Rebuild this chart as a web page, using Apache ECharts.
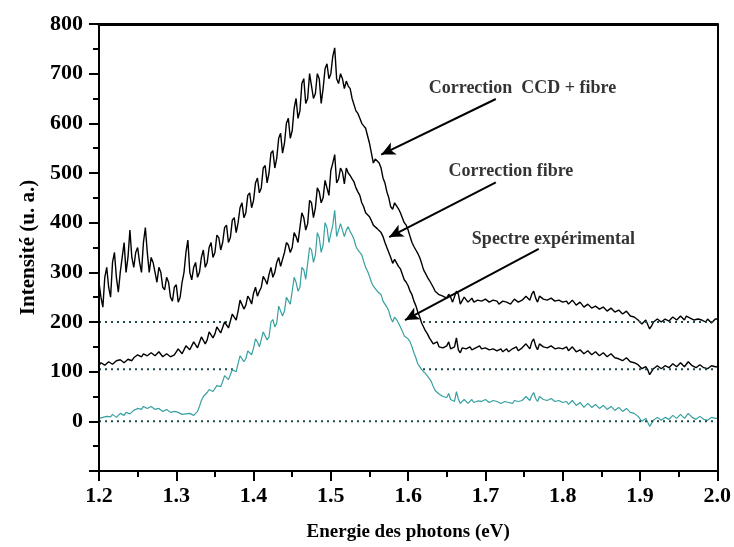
<!DOCTYPE html>
<html><head><meta charset="utf-8">
<script src="https://cdn.jsdelivr.net/npm/echarts@6/dist/echarts.min.js"></script>
<style>html,body{margin:0;padding:0;background:#fff}#c{width:734px;height:547px}</style>
</head><body><div id="c"></div>
<script>
// Sampling grid of the spectra (eV)
const E_START = 1.2;
const E_STEP = 0.0025;

// Spectre expérimental
const expValues = [6,10,8,5,10,12,9,14,12,8,11,16,16,12,18,20,15,18,22,26,
 26,22,24,30,34,26,26,30,28,24,22,26,24,20,20,24,22,18,18,20,
 20,18,16,14,17,15,13,16,16,12,14,20,30,42,50,46,58,64,66,60,
 64,72,76,70,80,92,90,84,88,104,108,100,116,132,132,120,126,142,140,134,
 148,166,160,150,152,180,178,164,170,200,205,190,198,232,228,212,222,250,252,236,
 262,290,280,262,270,310,305,286,318,350,345,320,335,380,370,340,355,400,390,360,
 378,395,425,372,372,398,395,372,385,392,382,375,366,352,345,340,335,322,310,302,
 292,280,272,268,262,265,255,242,236,230,222,208,200,210,205,198,196,182,172,168,
 166,160,150,138,128,116,110,104,100,96,92,86,80,70,62,58,55,52,50,52,
 48,56,44,40,40,60,45,36,36,44,42,36,40,44,38,36,41,44,40,38,
 44,42,38,42,42,38,40,36,36,40,40,42,38,34,36,42,42,40,40,42,
 44,50,48,42,52,58,46,40,50,52,44,48,42,40,46,50,40,44,42,38,
 38,42,40,34,36,42,38,32,34,38,36,28,32,36,34,28,30,34,32,26,
 28,32,30,24,26,30,28,22,24,28,26,20,22,26,24,18,20,16,14,10,
 6,0,2,6,4,-10,-4,2,2,8,6,2,4,8,8,4,6,12,10,6,
 8,14,12,6,10,16,14,8,8,4,6,10,10,4,6,2,4,8,8,6,
 6];

// Correction fibre
const fibreValues = [112,118,116,113,114,120,118,115,116,122,120,124,122,118,119,125,126,122,128,132,
 134,138,130,136,140,132,132,138,136,132,134,140,138,130,132,136,136,130,128,134,
 134,146,142,136,138,152,150,144,146,160,156,148,152,170,168,156,164,180,176,168,
 176,190,186,178,182,200,196,188,192,216,214,204,222,244,240,226,234,252,246,236,
 258,270,252,262,270,292,285,276,296,310,290,300,320,330,312,326,340,360,355,340,
 350,380,372,360,390,420,410,385,398,445,440,410,430,470,462,440,450,485,470,455,
 505,520,537,480,488,510,502,478,510,500,495,488,482,470,462,455,440,432,420,416,
 412,404,395,392,388,384,380,372,360,350,346,330,318,326,322,312,307,296,285,280,
 273,262,255,242,233,220,210,198,190,182,176,168,162,156,152,160,150,146,148,152,
 152,160,146,142,150,168,144,138,148,152,146,150,150,144,144,148,148,152,146,144,
 148,146,144,148,146,142,142,146,146,140,144,146,140,144,146,150,150,142,146,148,
 150,156,154,146,160,166,152,144,156,160,150,154,148,144,152,156,146,150,148,144,
 146,150,150,142,144,150,148,140,140,144,146,136,138,142,142,134,136,140,140,132,
 134,138,138,130,132,136,136,128,130,126,128,122,124,128,126,120,122,118,118,114,
 112,106,108,110,104,94,100,106,106,112,110,106,108,112,112,108,110,116,114,110,
 112,118,116,110,114,120,118,112,112,108,110,114,114,108,110,106,108,112,112,110,
 110];

// Correction CCD + fibre
const ccdValues = [280,250,230,290,310,270,250,320,340,290,260,300,330,360,300,330,385,330,310,340,
 350,320,300,360,390,340,300,330,320,300,280,310,300,270,265,290,280,250,242,270,
 275,240,250,280,300,340,365,300,285,310,320,290,300,330,345,310,320,350,360,330,
 340,375,370,345,360,390,395,360,370,405,410,380,400,430,440,410,420,455,460,430,
 445,480,490,460,470,510,515,480,500,540,545,510,530,570,580,540,560,600,610,570,
 585,630,650,610,625,680,690,640,650,700,700,650,660,700,690,640,670,710,720,690,
 700,735,752,690,680,700,690,670,685,675,670,650,650,625,620,610,600,595,590,575,
 560,540,520,528,530,520,510,490,480,462,450,432,427,440,440,428,420,410,400,395,
 385,372,360,352,345,338,330,318,305,298,290,284,280,270,262,258,255,252,252,256,
 248,256,250,240,244,262,256,236,240,250,246,240,242,248,240,236,244,246,242,240,
 246,242,240,244,244,240,242,236,238,242,244,240,240,236,238,246,244,240,242,244,
 246,252,250,244,256,262,248,240,252,256,246,250,244,240,248,252,242,246,244,240,
 240,244,242,236,238,244,240,234,236,240,238,230,232,236,234,228,228,232,230,226,
 226,230,228,222,224,228,226,220,220,224,222,216,218,222,220,212,214,210,208,204,
 202,196,198,204,200,186,192,200,200,206,204,200,202,206,206,202,204,210,208,204,
 206,212,210,204,212,216,208,204,204,208,206,202,204,200,200,206,204,198,202,206,
 206];

// Baselines (dotted) of the three shifted spectra
const baselines = [0, 105, 200];

// Annotations: label, label position, arrow start, arrow tip (data units)
const annLabels = ['Correction  CCD + fibre', 'Correction fibre', 'Spectre expérimental'];
const annLabelPos = [[1.748, 671], [1.733, 503], [1.788, 367]];
const annArrowFrom = [[1.7135, 649], [1.7135, 481], [1.769, 347]];
const annArrowTo = [[1.5652, 537], [1.5755, 371], [1.596, 204]];

const X_MIN = 1.2, X_MAX = 2.0, Y_MIN = -100, Y_MAX = 800;

function pairs(vals) { return vals.map((v, i) => [+(E_START + i * E_STEP).toFixed(4), v]); }
function baseLine(v) { return [[X_MIN, v], [X_MAX, v]]; }

const FONT = '"Liberation Serif", "Times New Roman", serif';
const teal = '#37a0a0';
const dotCol = '#1d4c4c';

function specSeries(name, vals, color, w, z) {
  return { name, type: 'line', z, data: pairs(vals), symbol: 'none', showSymbol: false,
    lineStyle: { color, width: w }, areaStyle: { color: '#ffffff', opacity: 1, origin: 'start' },
    silent: true };
}
function dotSeries(v, z) {
  return { type: 'line', z, data: baseLine(v), symbol: 'none',
    lineStyle: { color: dotCol, width: 2, type: [2, 4] }, silent: true };
}

const chart = echarts.init(document.getElementById('c'), null, { renderer: 'canvas' });
chart.setOption({
  animation: false,
  backgroundColor: '#fff',
  grid: { left: 99, right: 15, top: 24, bottom: 74 },
  xAxis: [{
    type: 'value', min: X_MIN, max: X_MAX, interval: 0.1, z: 20,
    name: 'Energie des photons (eV)', nameLocation: 'middle', nameGap: 52,
    nameTextStyle: { fontFamily: FONT, fontSize: 19, fontWeight: 'bold', color: '#000' },
    axisLine: { onZero: false, lineStyle: { color: '#000', width: 2 } },
    axisTick: { inside: false, length: 10, lineStyle: { color: '#000', width: 2 } },
    minorTick: { show: true, splitNumber: 2, length: 6, lineStyle: { color: '#000', width: 2 } },
    axisLabel: { fontFamily: FONT, fontSize: 22, fontWeight: 'bold', color: '#000', margin: 14,
      formatter: v => v.toFixed(1) },
    splitLine: { show: false }
  }, {
    type: 'value', position: 'top', min: X_MIN, max: X_MAX, z: 20,
    axisLine: { show: true, onZero: false, lineStyle: { color: '#000', width: 3 } },
    axisTick: { show: false }, axisLabel: { show: false }, splitLine: { show: false }
  }],
  yAxis: [{
    type: 'value', min: Y_MIN, max: Y_MAX, interval: 100, z: 20,
    name: 'Intensité (u. a.)', nameLocation: 'middle', nameGap: 58,
    nameTextStyle: { fontFamily: FONT, fontSize: 21, fontWeight: 'bold', color: '#000' },
    axisLine: { show: true, onZero: false, lineStyle: { color: '#000', width: 2 } },
    axisTick: { inside: false, length: 10, lineStyle: { color: '#000', width: 2 } },
    minorTick: { show: true, splitNumber: 2, length: 6, lineStyle: { color: '#000', width: 2 } },
    axisLabel: { fontFamily: FONT, fontSize: 22, fontWeight: 'bold', color: '#000', margin: 16,
      formatter: v => (v === Y_MIN ? '' : String(v)) },
    splitLine: { show: false }
  }, {
    type: 'value', position: 'right', min: Y_MIN, max: Y_MAX, z: 20,
    axisLine: { show: true, onZero: false, lineStyle: { color: '#000', width: 2 } },
    axisTick: { show: false }, axisLabel: { show: false }, splitLine: { show: false }
  }],
  series: [
    specSeries('Correction CCD + fibre', ccdValues, '#000', 1.4, 2),
    dotSeries(baselines[2], 3),
    specSeries('Correction fibre', fibreValues, '#000', 1.4, 4),
    dotSeries(baselines[1], 5),
    specSeries('Spectre expérimental', expValues, teal, 1.2, 6),
    dotSeries(baselines[0], 7),
    {
      type: 'scatter', symbolSize: 0, silent: true, z: 8,
      data: annLabels.map((t, i) => ({ name: t, value: annLabelPos[i] })),
      label: { show: true, position: 'inside', formatter: '{b}', fontFamily: FONT,
        fontSize: 18, fontWeight: 'bold', color: '#000' },
      markLine: {
        silent: true, symbol: ['none', 'arrow'], symbolSize: [10, 14], animation: false,
        label: { show: false },
        lineStyle: { color: '#000', width: 2, type: 'solid' },
        data: annArrowFrom.map((f, i) => [{ coord: f }, { coord: annArrowTo[i] }])
      }
    }
  ]
});
</script></body></html>
